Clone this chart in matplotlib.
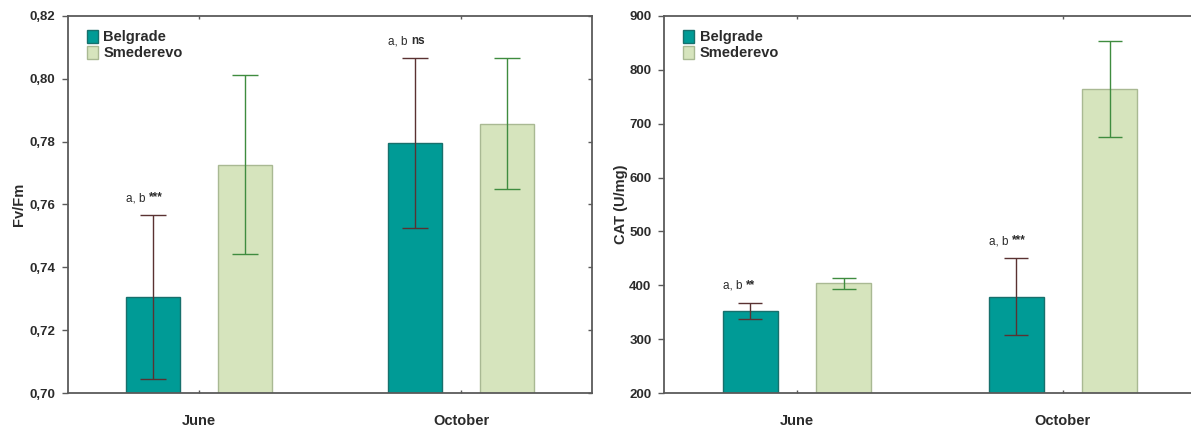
import matplotlib
matplotlib.use("Agg")
import matplotlib.pyplot as plt
from matplotlib.patches import Patch
from matplotlib.ticker import FuncFormatter
import numpy as np

plt.rcParams['font.family'] = ['Liberation Sans', 'DejaVu Sans']

months = ['June', 'October']
series = ['Belgrade', 'Smederevo']

# Fv/Fm
fvfm_bel = [0.7306, 0.7795]
fvfm_bel_err = [0.026, 0.027]
fvfm_sme = [0.7727, 0.7857]
fvfm_sme_err = [0.0285, 0.0208]
fvfm_notes = [('a, b', '***'), ('a, b', 'ns')]

# CAT (U/mg)
cat_bel = [352, 379]
cat_bel_err = [15, 71]
cat_sme = [404, 764]
cat_sme_err = [10, 89]
cat_notes = [('a, b', '**'), ('a, b', '***')]

bel_col = '#009b96'
bel_edge = '#17706c'
sme_col = '#d6e4bd'
sme_edge = '#a9b993'
bel_err_col = '#5a3232'
sme_err_col = '#3f8c3f'
spine_col = '#5a5a5a'
text_col = '#2b2b2b'

fig = plt.figure(figsize=(11.91, 4.30), dpi=100)
ax1 = fig.add_axes([0.0571, 0.086, 0.44, 0.877])
ax2 = fig.add_axes([0.5575, 0.086, 0.4467, 0.877])

x = np.arange(len(months))
off = 0.176
w = 0.208


def panel(ax, bel, bel_err, sme, sme_err, notes, ylim, yticks, fmt, ylabel, capsize):
    ax.bar(x - off, bel, w, color=bel_col, edgecolor=bel_edge, linewidth=1.0, zorder=2)
    ax.bar(x + off, sme, w, color=sme_col, edgecolor=sme_edge, linewidth=1.0, zorder=2)
    ax.errorbar(x - off, bel, yerr=bel_err, fmt='none', ecolor=bel_err_col,
                elinewidth=1.0, capsize=capsize, capthick=1.0, zorder=3)
    ax.errorbar(x + off, sme, yerr=sme_err, fmt='none', ecolor=sme_err_col,
                elinewidth=1.0, capsize=capsize, capthick=1.0, zorder=3)
    for i, (a, s) in enumerate(notes):
        ytop = bel[i] + bel_err[i]
        ax.annotate(a + ' ', xy=(x[i] - off, ytop), xytext=(-3, 8),
                    textcoords='offset points', ha='right', va='bottom',
                    fontsize=8.5, color=text_col)
        ax.annotate(s, xy=(x[i] - off, ytop), xytext=(-3, 8.5),
                    textcoords='offset points', ha='left', va='bottom',
                    fontsize=8.5, fontweight='bold', color=text_col)
    ax.set_xlim(-0.5, 1.5)
    ax.set_ylim(*ylim)
    ax.set_yticks(yticks)
    ax.yaxis.set_major_formatter(FuncFormatter(fmt))
    ax.set_xticks(x)
    ax.set_xticklabels(months, fontsize=10.5, fontweight='bold', color=text_col)
    ax.tick_params(axis='x', direction='in', top=True, length=2.5, pad=15,
                   color=spine_col, width=1.0)
    ax.tick_params(axis='y', direction='out', length=4, pad=5, color=spine_col,
                   width=1.0, labelsize=9.5, labelcolor=text_col)
    for lab in ax.get_yticklabels():
        lab.set_fontweight('bold')
    ax.set_ylabel(ylabel, fontsize=10.5, fontweight='bold', color=text_col)
    for sp in ax.spines.values():
        sp.set_color(spine_col)
        sp.set_linewidth(1.3)
    # inward ticks on the right side
    tw = ax.twinx()
    tw.set_ylim(*ylim)
    tw.set_yticks(yticks)
    tw.tick_params(axis='y', direction='in', length=3, color=spine_col,
                   labelright=False, width=1.0)
    for sp in tw.spines.values():
        sp.set_visible(False)
    handles = [Patch(facecolor=bel_col, edgecolor=bel_edge, label=series[0]),
               Patch(facecolor=sme_col, edgecolor=sme_edge, label=series[1])]
    leg = ax.legend(handles=handles, loc='upper left', frameon=False,
                    bbox_to_anchor=(0.012, 0.998),
                    handlelength=0.75, handleheight=1.0, handletextpad=0.35,
                    labelspacing=0.1, borderaxespad=0.5,
                    prop={'weight': 'bold', 'size': 10.5})
    for t in leg.get_texts():
        t.set_color(text_col)


panel(ax1, fvfm_bel, fvfm_bel_err, fvfm_sme, fvfm_sme_err, fvfm_notes,
      (0.70, 0.82), np.arange(0.70, 0.8201, 0.02),
      lambda v, p: ('%.2f' % v).replace('.', ','), 'Fv/Fm', 9.5)
panel(ax2, cat_bel, cat_bel_err, cat_sme, cat_sme_err, cat_notes,
      (200, 900), np.arange(200, 901, 100),
      lambda v, p: '%d' % v, 'CAT (U/mg)', 8.5)

ax1.yaxis.set_label_coords(-0.08, 0.5)
ax2.yaxis.set_label_coords(-0.068, 0.5)

fig.savefig('out.png', dpi=100)
